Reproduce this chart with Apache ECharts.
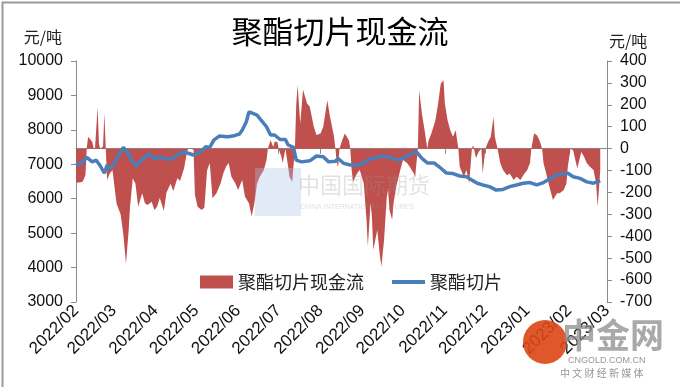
<!DOCTYPE html>
<html><head><meta charset="utf-8">
<script src="https://cdn.jsdelivr.net/npm/echarts@6/dist/echarts.min.js"></script>
<style>html,body{margin:0;padding:0;background:#fff}#c{width:680px;height:387px}</style>
</head><body><div id="c"></div>
<script>
// 聚酯切片现金流 (right axis, 元/吨)
const cashDates = ['2022-02-01','2022-02-04','2022-02-06','2022-02-08','2022-02-09','2022-02-10','2022-02-11','2022-02-13','2022-02-14','2022-02-15','2022-02-16','2022-02-17','2022-02-18','2022-02-19','2022-02-20','2022-02-21','2022-02-22','2022-02-23','2022-02-24','2022-02-26','2022-02-28',
'2022-03-02','2022-03-03','2022-03-06','2022-03-08','2022-03-10','2022-03-12','2022-03-13','2022-03-15','2022-03-17','2022-03-19','2022-03-22','2022-03-24','2022-03-26','2022-03-29','2022-03-31',
'2022-04-02','2022-04-04','2022-04-07','2022-04-09','2022-04-12','2022-04-14','2022-04-17','2022-04-19','2022-04-22','2022-04-24','2022-04-25','2022-04-27','2022-04-29','2022-04-30',
'2022-05-02','2022-05-05','2022-05-07','2022-05-09','2022-05-11','2022-05-13','2022-05-16','2022-05-19','2022-05-21','2022-05-23','2022-05-25','2022-05-27','2022-05-30',
'2022-06-01','2022-06-04','2022-06-06','2022-06-09','2022-06-11','2022-06-13','2022-06-15','2022-06-17','2022-06-20','2022-06-22','2022-06-23','2022-06-25','2022-06-27','2022-06-28','2022-06-30',
'2022-07-01','2022-07-03','2022-07-04','2022-07-06','2022-07-07','2022-07-08','2022-07-09','2022-07-11','2022-07-12','2022-07-13','2022-07-14','2022-07-15','2022-07-17','2022-07-19','2022-07-22','2022-07-24','2022-07-27','2022-07-29',
'2022-08-01','2022-08-03','2022-08-06','2022-08-08','2022-08-11','2022-08-12','2022-08-13','2022-08-14','2022-08-15','2022-08-17','2022-08-19','2022-08-22','2022-08-23','2022-08-24','2022-08-25','2022-08-28','2022-08-30',
'2022-09-02','2022-09-04','2022-09-05','2022-09-07','2022-09-08','2022-09-09','2022-09-12','2022-09-14','2022-09-15','2022-09-17','2022-09-19','2022-09-20','2022-09-21','2022-09-23','2022-09-24','2022-09-26','2022-09-29',
'2022-10-01','2022-10-04','2022-10-06','2022-10-09','2022-10-10','2022-10-12','2022-10-13','2022-10-15','2022-10-17','2022-10-19','2022-10-20','2022-10-22','2022-10-25','2022-10-27','2022-10-29','2022-10-31',
'2022-11-01','2022-11-03','2022-11-05','2022-11-07','2022-11-09','2022-11-11','2022-11-12','2022-11-15','2022-11-17','2022-11-19','2022-11-21','2022-11-22','2022-11-24','2022-11-26','2022-11-28','2022-11-29',
'2022-12-01','2022-12-03','2022-12-05','2022-12-07','2022-12-08','2022-12-10','2022-12-12','2022-12-14','2022-12-17','2022-12-19','2022-12-22','2022-12-24','2022-12-27','2022-12-29',
'2023-01-01','2023-01-03','2023-01-04','2023-01-06','2023-01-08','2023-01-10','2023-01-12','2023-01-13','2023-01-15','2023-01-18','2023-01-20','2023-01-23','2023-01-25','2023-01-28','2023-01-30','2023-01-31',
'2023-02-02','2023-02-04','2023-02-05','2023-02-07','2023-02-09','2023-02-10','2023-02-12','2023-02-14','2023-02-16','2023-02-19','2023-02-21','2023-02-22','2023-02-23','2023-02-24'];
const cashValues = [-155,-155,-150,-120,5,54,45,31,5,-5,0,191,20,0,-5,10,160,5,-143,-113,-98,
-200,-250,-300,-390,-525,-370,-265,-135,-160,-265,-204,-249,-257,-242,-280,
-265,-225,-285,-200,-160,-195,-135,-148,-90,-20,0,0,-5,-210,
-265,-280,-270,-100,-66,-227,-204,-159,-113,-83,-66,-128,-159,
-189,-143,-219,-249,-310,-249,-159,-128,-98,-52,0,38,8,31,31,
0,-37,-66,0,8,-83,-128,-151,-143,0,200,290,115,270,206,191,100,62,
69,100,221,145,54,0,-66,-83,0,38,69,38,0,-98,-151,-113,-98,
-159,-325,-447,-249,-310,-462,-371,-493,-538,-417,-219,-189,-280,-325,-249,-174,-98,
-52,-66,-83,-113,-128,0,267,160,84,0,38,69,130,206,297,312,
206,130,84,54,84,0,-83,-128,-98,-159,0,17,-44,-14,0,-113,
0,31,54,145,54,0,-66,-98,-121,-113,-143,-128,-143,-121,
-98,-66,0,69,62,38,0,-66,-113,-189,-234,-204,-204,-189,-159,-83,
0,-8,-37,-90,-40,-15,-37,-66,-80,-98,-159,-265,-189,-100];

// 聚酯切片 price (left axis, 元/吨)
const priceDates = ['2022-02-01','2022-02-05','2022-02-09','2022-02-13','2022-02-16','2022-02-19','2022-02-22','2022-02-24','2022-02-26',
'2022-03-01','2022-03-04','2022-03-08','2022-03-11','2022-03-14','2022-03-18','2022-03-22','2022-03-27','2022-03-31',
'2022-04-05','2022-04-12','2022-04-17','2022-04-21','2022-04-25','2022-04-29',
'2022-05-04','2022-05-08','2022-05-11','2022-05-14','2022-05-18','2022-05-24','2022-05-28',
'2022-06-02','2022-06-04','2022-06-07','2022-06-09','2022-06-11','2022-06-15','2022-06-18','2022-06-22','2022-06-25','2022-06-28',
'2022-07-02','2022-07-06','2022-07-08','2022-07-12','2022-07-14','2022-07-18','2022-07-24','2022-07-29',
'2022-08-03','2022-08-07','2022-08-12','2022-08-14','2022-08-18','2022-08-23','2022-08-28',
'2022-09-02','2022-09-07','2022-09-12','2022-09-16','2022-09-21','2022-09-28',
'2022-10-03','2022-10-07','2022-10-11','2022-10-15','2022-10-19','2022-10-24','2022-10-28',
'2022-11-02','2022-11-07','2022-11-12','2022-11-17','2022-11-21','2022-11-25','2022-11-29',
'2022-12-04','2022-12-09','2022-12-14','2022-12-19','2022-12-24','2022-12-29',
'2023-01-03','2023-01-08','2023-01-13','2023-01-18','2023-01-23','2023-01-28','2023-01-31',
'2023-02-04','2023-02-09','2023-02-14','2023-02-19','2023-02-24'];
const priceValues = [6980,7030,7200,7070,7120,6950,6740,6980,6880,
6980,7220,7490,7360,7120,6950,7140,7300,7170,
7200,7140,7270,7360,7320,7270,
7360,7510,7490,7700,7820,7800,7820,
7880,7990,8230,8520,8490,8430,8280,8090,7850,7850,
7720,7720,7560,7490,7120,7070,7100,7240,
7220,7070,7090,7170,7030,6980,6980,
7040,7170,7200,7240,7200,7120,
7220,7300,7360,7170,7040,7040,6920,
6750,6730,6660,6640,6540,6450,6400,
6350,6250,6270,6350,6400,6450,
6470,6400,6470,6590,6690,6740,6740,
6640,6590,6490,6450,6520];

const xMin = '2022-02-01', xMax = '2023-03-01';
const leftTicks = {min: 3000, max: 10000, interval: 1000};
const rightTicks = {min: -700, max: 400, interval: 100};
const cashName = '聚酯切片现金流', priceName = '聚酯切片';

const cashData = cashDates.map((d, i) => [d, cashValues[i]]);
const priceData = priceDates.map((d, i) => [d, priceValues[i]]);

const FONT = 'Liberation Sans, Noto Sans CJK SC, sans-serif';
const CJK = 'Noto Sans CJK SC, sans-serif';
const DAY = 86400000;
const axisGray = '#8a8a8a';

const chart = echarts.init(document.getElementById('c'), null, {renderer: 'canvas'});
chart.setOption({
  animation: false,
  backgroundColor: '#fff',
  title: {
    text: '聚酯切片现金流', left: 'center', top: 11,
    textStyle: {fontFamily: CJK, fontSize: 31, fontWeight: 'normal', color: '#000'}
  },
  legend: {
    left: 195, top: 268, itemWidth: 33, itemHeight: 13, itemGap: 28,
    textStyle: {fontFamily: CJK, fontSize: 18, color: '#222'},
    data: [{name: cashName, icon: 'rect'}, {name: priceName, icon: 'path://M0,0H33V4H0Z'}]
  },
  grid: {left: 76, right: 73, top: 61, bottom: 85, containLabel: false, outerBoundsMode: 'none'},
  xAxis: {
    type: 'time', min: xMin, max: xMax,
    minInterval: 28 * DAY, maxInterval: 31 * DAY,
    axisLine: {lineStyle: {color: axisGray}},
    axisTick: {show: true, length: 5, lineStyle: {color: axisGray}},
    splitLine: {show: false},
    axisLabel: {
      formatter: '{yyyy}/{MM}', rotate: 45, fontSize: 17, fontFamily: FONT, color: '#111', margin: 6,
      showMinLabel: true, showMaxLabel: true, hideOverlap: false
    }
  },
  yAxis: [{
    type: 'value', min: leftTicks.min, max: leftTicks.max, interval: leftTicks.interval,
    name: '元/吨', nameLocation: 'end', nameGap: 16,
    nameTextStyle: {fontFamily: CJK, fontSize: 16, color: '#222', align: 'right', padding: [0, 14, 0, 0]},
    axisLine: {show: true, lineStyle: {color: axisGray}},
    axisTick: {show: true, length: 5, lineStyle: {color: axisGray}},
    splitLine: {show: false},
    axisLabel: {fontSize: 16, fontFamily: FONT, color: '#111', margin: 13, formatter: v => String(v)}
  }, {
    type: 'value', min: rightTicks.min, max: rightTicks.max, interval: rightTicks.interval,
    name: '元/吨', nameLocation: 'end', nameGap: 12,
    nameTextStyle: {fontFamily: CJK, fontSize: 16, color: '#222', align: 'left', padding: [0, 0, 0, 2]},
    axisLine: {show: true, lineStyle: {color: axisGray}},
    axisTick: {show: true, length: 5, lineStyle: {color: axisGray}},
    splitLine: {show: false},
    axisLabel: {fontSize: 16, fontFamily: FONT, color: '#111', margin: 13, formatter: v => String(v)}
  }],
  series: [{
    name: cashName, type: 'line', yAxisIndex: 1, data: cashData,
    symbol: 'none', color: '#C0504D',
    lineStyle: {width: 0, opacity: 0},
    areaStyle: {color: '#C0504D', opacity: 1, origin: 'auto'},
    z: 2
  }, {
    name: priceName, type: 'line', yAxisIndex: 0, data: priceData,
    symbol: 'none', color: '#4A7EBB',
    lineStyle: {width: 3.5, color: '#4A7EBB'},
    z: 3
  }],
  graphic: [
    {type: 'rect', left: 0, top: 0, shape: {width: 679, height: 386}, style: {fill: 'none', stroke: '#9a9a9a', lineWidth: 2}, silent: true, z: 100},
    {type: 'rect', left: 255, top: 168, shape: {width: 46, height: 48}, style: {fill: 'rgba(170,195,230,0.35)'}, silent: true, z: 50},
    {type: 'text', left: 298, top: 174, style: {text: '中国国际期货', font: '22px Noto Sans CJK SC', fill: 'rgba(150,150,150,0.28)'}, silent: true, z: 50},
    {type: 'text', left: 300, top: 204, style: {text: 'CHINA INTERNATIONAL FUTURES', font: '7px Liberation Sans', fill: 'rgba(150,150,150,0.3)'}, silent: true, z: 50},
    {type: 'circle', shape: {cx: 545, cy: 342, r: 22}, style: {fill: 'rgba(220,70,20,0.9)'}, silent: true, z: 60},
    {type: 'text', left: 562, top: 318, style: {text: '中金网', font: 'bold 34px Noto Sans CJK SC', fill: 'rgba(140,140,140,0.75)'}, silent: true, z: 60},
    {type: 'text', left: 568, top: 356, style: {text: 'CNGOLD.COM.CN', font: '9px Liberation Sans', fill: 'rgba(140,140,140,0.9)'}, silent: true, z: 60},
    {type: 'text', left: 560, top: 368, style: {text: '中 文 财 经 新 媒 体', font: '10px Noto Sans CJK SC', fill: 'rgba(140,140,140,0.9)'}, silent: true, z: 60}
  ]
});
</script></body></html>
